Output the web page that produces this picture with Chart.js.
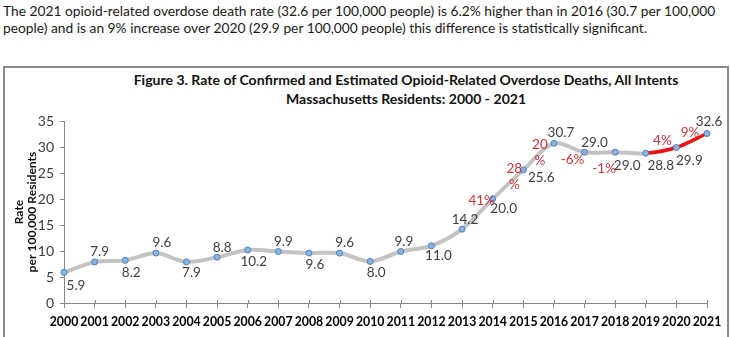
<!DOCTYPE html>
<html>
<head>
<meta charset="utf-8">
<script src="https://cdn.jsdelivr.net/npm/chart.js@4.4.1/dist/chart.umd.min.js"></script>
<style>
  html, body { margin: 0; padding: 0; background: #fff; }
  body { width: 730px; height: 337px; position: relative; overflow: hidden; font-family: Lato, "Liberation Sans", Arial, sans-serif; }
  #para { position: absolute; left: 3px; top: 2px; width: 727px; font-size: 13.2px; line-height: 17px; color: #1a1a1a; white-space: nowrap; }
  #box { position: absolute; left: 3px; top: 66px; width: 722px; height: 290px; border: 2px solid #8a8a8a; }
  #title { position: absolute; left: 0; width: 812px; top: 70px; text-align: center; font-weight: bold; font-size: 14px; line-height: 19px; color: #111; }
  #wrap { position: absolute; left: 0; top: 0; width: 730px; height: 337px; }
</style>
</head>
<body>
<div id="para"><span id="p1">The 2021 opioid-related overdose death rate (32.6 per 100,000 people) is 6.2% higher than in 2016 (30.7 per 100,000</span><br><span>people) and is an 9% increase over 2020 (29.9 per 100,000 people) this difference is statistically significant.</span></div>
<div id="box"></div>
<div id="title"><span id="t1">Figure 3. Rate of Confirmed and Estimated Opioid-Related Overdose Deaths, All Intents</span><br><span>Massachusetts Residents: 2000 - 2021</span></div>
<div id="wrap"><canvas id="c" width="730" height="337"></canvas></div>
<script>
// ---- data ----
const years = ['2000','2001','2002','2003','2004','2005','2006','2007','2008','2009','2010','2011','2012','2013','2014','2015','2016','2017','2018','2019','2020','2021'];
const rates = [5.9, 7.9, 8.2, 9.6, 7.9, 8.8, 10.2, 9.9, 9.6, 9.6, 8.0, 9.9, 11.0, 14.2, 20.0, 25.6, 30.7, 29.0, 29.0, 28.8, 29.9, 32.6];
const rateLabels = ['5.9','7.9','8.2','9.6','7.9','8.8','10.2','9.9','9.6','9.6','8.0','9.9','11.0','14.2','20.0','25.6','30.7','29.0','29.0','28.8','29.9','32.6'];
const pctYears = ['2014','2015','2016','2017','2018','2020','2021'];
const pctLabels = ['41%', ['28','%'], ['20','%'], '-6%', '-1%', '4%', '9%'];
const yTicks = [0, 5, 10, 15, 20, 25, 30, 35];
const yTitle = ['Rate', 'per 100,000 Residents'];
const highlightFrom = '2019';

// ---- label placement (offsets from the point, px) ----
const rateLabelOffsets = [
  [12,13],[5,-10],[6,12],[6,-10],[5,11],[5,-10],[6,12],[5,-10],[6,12],[5,-10],
  [6,11],[3,-10],[7,10],[3,-10],[11,10],[18,8],[7,-11],[10,-10],[12,13],[15,12],[13,13],[2,-12]
];
const pctLabelOffsets = [[-11,2],[-9,-1],[-14,1],[-12,7],[-11,16],[-14,-7],[-17,-1]];

const FONT = 'Lato, "Liberation Sans", Arial, sans-serif';
const hiIdx = years.indexOf(highlightFrom);

// fit HTML text widths to the reference widths
function fit(el, target) {
  const r = el.getBoundingClientRect().width;
  const fs = parseFloat(getComputedStyle(el.parentNode).fontSize);
  el.parentNode.style.fontSize = (fs * target / r).toFixed(2) + 'px';
}
fit(document.getElementById('p1'), 712);
fit(document.getElementById('t1'), 545);

const mctx = document.createElement('canvas').getContext('2d');
mctx.font = 'bold 12px ' + FONT;
const yTitleSize = 12 * 121 / mctx.measureText(yTitle[1]).width;

const labelPlugin = {
  id: 'pointLabels',
  afterDatasetsDraw(chart) {
    const ctx = chart.ctx;
    const meta = chart.getDatasetMeta(0);
    ctx.save();
    ctx.textAlign = 'center';
    ctx.textBaseline = 'middle';
    ctx.font = '13.5px ' + FONT;
    ctx.fillStyle = '#404040';
    meta.data.forEach((pt, i) => {
      const o = rateLabelOffsets[i];
      ctx.fillText(rateLabels[i], pt.x + o[0], pt.y + o[1]);
    });
    ctx.fillStyle = '#c8373b';
    pctLabels.forEach((lab, k) => {
      const pt = meta.data[years.indexOf(pctYears[k])];
      const o = pctLabelOffsets[k];
      const lines = Array.isArray(lab) ? lab : [lab];
      lines.forEach((l, j) => ctx.fillText(l, pt.x + o[0], pt.y + o[1] + j * 16));
    });
    ctx.restore();
  }
};

// cross tick marks on the category axis (inner part above the axis line)
const crossTicks = {
  id: 'crossTicks',
  afterDraw(chart) {
    const xs = chart.scales.x, ctx = chart.ctx;
    ctx.save();
    ctx.strokeStyle = '#868686';
    ctx.lineWidth = 1;
    xs.ticks.forEach((t, i) => {
      const x = Math.round(xs.getPixelForTick(i)) + 0.5;
      ctx.beginPath();
      ctx.moveTo(x, xs.top - 3);
      ctx.lineTo(x, xs.top);
      ctx.stroke();
    });
    ctx.restore();
  }
};

new Chart(document.getElementById('c'), {
  type: 'line',
  data: {
    labels: years,
    datasets: [{
      data: rates,
      borderColor: '#c3c3c3',
      borderWidth: 4,
      tension: 0.3,
      pointRadius: 3,
      pointBackgroundColor: '#8db3e2',
      pointBorderColor: '#4f81bd',
      pointBorderWidth: 1,
      segment: {
        borderColor: c => c.p0DataIndex >= hiIdx ? '#ee1111' : '#c3c3c3',
        borderWidth: c => c.p0DataIndex >= hiIdx ? 3.5 : 4
      }
    }]
  },
  plugins: [labelPlugin, crossTicks],
  options: {
    responsive: false,
    animation: false,
    events: [],
    layout: { padding: { left: 0, top: 121, right: 23, bottom: 0 } },
    plugins: { legend: { display: false }, tooltip: { enabled: false }, title: { display: false } },
    scales: {
      x: {
        offset: false,
        grid: { drawOnChartArea: false, drawTicks: true, tickLength: 5, color: '#868686' },
        border: { display: true, color: '#868686', width: 1 },
        ticks: { color: '#000', font: { family: FONT, size: 12.3, weight: 'bold' }, padding: 7, maxRotation: 0, autoSkip: false },
        afterFit(s) { s.height = 34; s.paddingLeft = 0; s.paddingRight = 0; }
      },
      y: {
        min: 0, max: 35,
        afterBuildTicks(s) { s.ticks = yTicks.map(v => ({ value: v })); },
        grid: { drawOnChartArea: false, drawTicks: true, tickLength: 4, color: '#868686' },
        border: { display: true, color: '#868686', width: 1 },
        ticks: { color: '#404040', font: { family: FONT, size: 14 }, padding: 6 },
        title: { display: true, text: yTitle, color: '#111', font: { family: FONT, size: yTitleSize, weight: 'bold', lineHeight: 1.1 }, padding: { top: 12, bottom: 0 } },
        afterFit(s) { s.width = 64; s.paddingTop = 0; s.paddingBottom = 0; }
      }
    }
  }
});
</script>
</body>
</html>
